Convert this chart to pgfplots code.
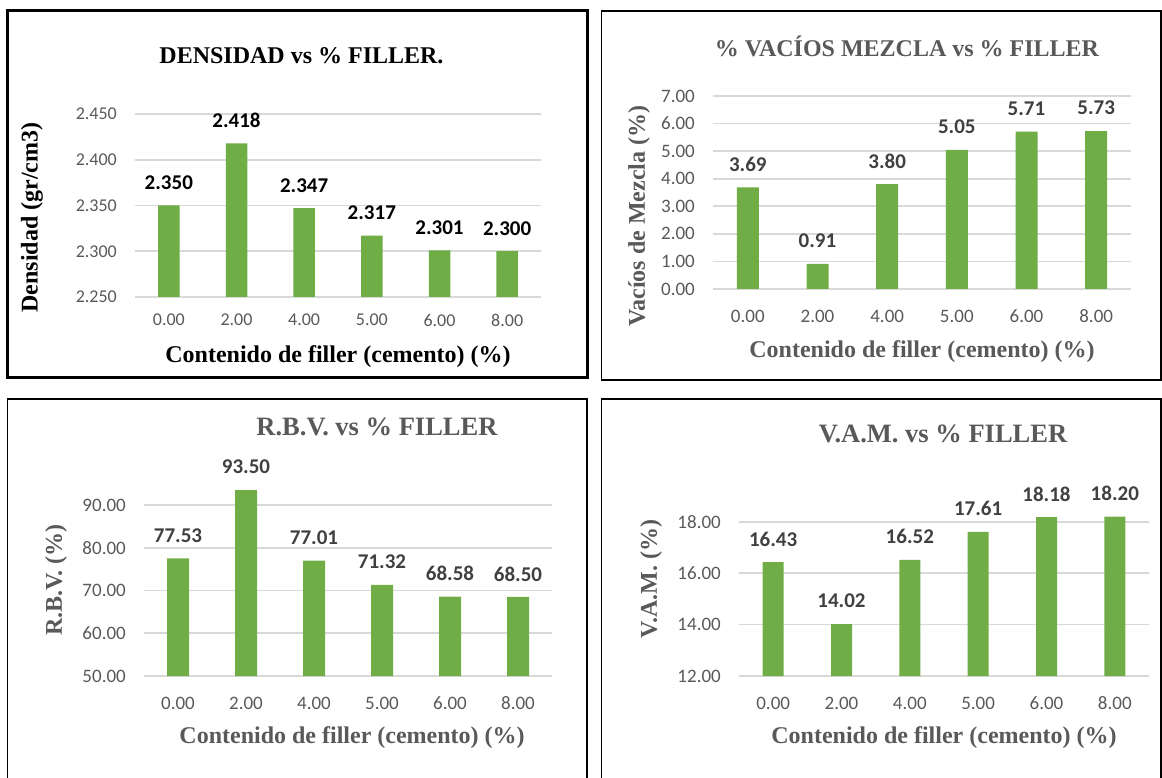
\documentclass[border=0pt]{standalone}
\usepackage{fontspec}
\setmainfont{Carlito}
\newfontfamily\serifbf{Liberation Serif}
\usepackage{pgfplots}
\pgfplotsset{compat=1.18}

\definecolor{barGreen}{HTML}{70AD47}
\definecolor{gridGray}{HTML}{D9D9D9}
\definecolor{tickGray}{HTML}{595959}
\definecolor{labelDark}{HTML}{404040}

\pgfplotsset{
  filler panel/.style={
    scale only axis,
    ybar,
    xmin=-0.5, xmax=5.5,
    xtick={0,1,2,3,4,5},
    xticklabels={0.00,2.00,4.00,5.00,6.00,8.00},
    axis line style={draw=none},
    major tick length=0pt,
    ymajorgrids,
    grid style={draw=gridGray, line width=1.7pt},
    tick label style={font=\fontsize{19}{22}\selectfont, text=tickGray, inner sep=0pt},
    yticklabel style={anchor=east, xshift=-18pt},
    xticklabel style={anchor=center, yshift=-27pt},
    scaled y ticks=false,
    clip=false,
    every node near coord/.append style={font=\fontsize{21}{24}\selectfont\bfseries,
      text=labelDark, anchor=center, yshift=23pt},
    label style={font=\fontsize{24}{28}\selectfont\serifbf\bfseries, text=tickGray, anchor=center},
    title style={font=\fontsize{24}{28}\selectfont\serifbf\bfseries, text=tickGray, anchor=center},
  },
  green bars/.style={fill=barGreen, draw=none},
}

\begin{document}
\begin{tikzpicture}
\useasboundingbox (0pt,0pt) rectangle (1162pt,777pt);

% panel frames
\draw[line width=3pt] (7.5pt,766.5pt) rectangle (587pt,399pt);
\draw[line width=1.6pt] (601.5pt,766pt) rectangle (1161pt,397pt);
\draw[line width=1.6pt] (7.5pt,378pt) rectangle (587pt,-5pt);
\draw[line width=1.6pt] (601.5pt,378pt) rectangle (1161pt,-5pt);

% Densidad
\begin{axis}[filler panel,
  at={(135pt,480pt)}, anchor=south west,
  width=406pt, height=183pt,
  bar width=21.5pt,
  ymin=2.25, ymax=2.45,
  ytick={2.25,2.30,2.35,2.40,2.45},
  yticklabel={\pgfmathprintnumber[fixed,fixed zerofill,precision=3,assume math mode=true]{\tick}},
  tick label style={font=\fontsize{18}{21}\selectfont},
  xticklabel style={yshift=4pt},
  nodes near coords={\pgfmathprintnumber[fixed,fixed zerofill,precision=3,assume math mode=true]{\pgfplotspointmeta}},
  every node near coord/.append style={text=black},
  title={DENSIDAD vs \% FILLER.},
  title style={at={(axis description cs:0.41,1.284)}, text=black},
  xlabel={Contenido de filler (cemento) (\%)},
  xlabel style={at={(axis description cs:0.5,-0.328)}, text=black},
  ylabel={Densidad (gr/cm3)},
  ylabel style={at={(axis description cs:-0.2537,0.434)}, text=black},
]
\addplot[green bars] coordinates {(0,2.350) (1,2.418) (2,2.347) (3,2.317) (4,2.301) (5,2.300)};
\end{axis}

% Vacios de mezcla
\begin{axis}[filler panel,
  at={(713pt,488pt)}, anchor=south west,
  width=418pt, height=193pt,
  bar width=22pt,
  ymin=0, ymax=7,
  ytick={0,1,2,3,4,5,6,7},
  yticklabel={\pgfmathprintnumber[fixed,fixed zerofill,precision=2,assume math mode=true]{\tick}},
  nodes near coords={\pgfmathprintnumber[fixed,fixed zerofill,precision=2,assume math mode=true]{\pgfplotspointmeta}},
  title={\% VACÍOS MEZCLA vs \% FILLER},
  title style={at={(axis description cs:0.464,1.228)}},
  xlabel={Contenido de filler (cemento) (\%)},
  xlabel style={at={(axis description cs:0.5,-0.326)}},
  ylabel={Vacíos de Mezcla (\%)},
  ylabel style={at={(axis description cs:-0.177,0.378)}},
]
\addplot[green bars] coordinates {(0,3.69) (1,0.91) (2,3.80) (3,5.05) (4,5.71) (5,5.73)};
\end{axis}

% R.B.V.
\begin{axis}[filler panel,
  at={(144pt,101pt)}, anchor=south west,
  width=408pt, height=213.75pt,
  bar width=22pt,
  ymin=50, ymax=100,
  ytick={50,60,70,80,90},
  yticklabel={\pgfmathprintnumber[fixed,fixed zerofill,precision=2,assume math mode=true]{\tick}},
  nodes near coords={\pgfmathprintnumber[fixed,fixed zerofill,precision=2,assume math mode=true]{\pgfplotspointmeta}},
  title={R.B.V. vs \% FILLER},
  title style={at={(axis description cs:0.571,1.137)}, font=\fontsize{26.5}{30}\selectfont\serifbf\bfseries},
  xlabel={Contenido de filler (cemento) (\%)},
  xlabel style={at={(axis description cs:0.51,-0.29)}},
  ylabel={R.B.V. (\%)},
  ylabel style={at={(axis description cs:-0.2157,0.449)}},
]
\addplot[green bars] coordinates {(0,77.53) (1,93.50) (2,77.01) (3,71.32) (4,68.58) (5,68.50)};
\end{axis}

% V.A.M.
\begin{axis}[filler panel,
  at={(739pt,101pt)}, anchor=south west,
  width=410pt, height=205.6pt,
  bar width=21pt,
  ymin=12, ymax=20,
  ytick={12,14,16,18},
  yticklabel={\pgfmathprintnumber[fixed,fixed zerofill,precision=2,assume math mode=true]{\tick}},
  nodes near coords={\pgfmathprintnumber[fixed,fixed zerofill,precision=2,assume math mode=true]{\pgfplotspointmeta}},
  title={V.A.M. vs \% FILLER},
  title style={at={(axis description cs:0.4976,1.148)}, font=\fontsize{26.5}{30}\selectfont\serifbf\bfseries},
  xlabel={Contenido de filler (cemento) (\%)},
  xlabel style={at={(axis description cs:0.5,-0.3016)}},
  ylabel={V.A.M. (\%)},
  ylabel style={at={(axis description cs:-0.2146,0.472)}},
]
\addplot[green bars] coordinates {(0,16.43) (1,14.02) (2,16.52) (3,17.61) (4,18.18) (5,18.20)};
\end{axis}
\end{tikzpicture}
\end{document}
